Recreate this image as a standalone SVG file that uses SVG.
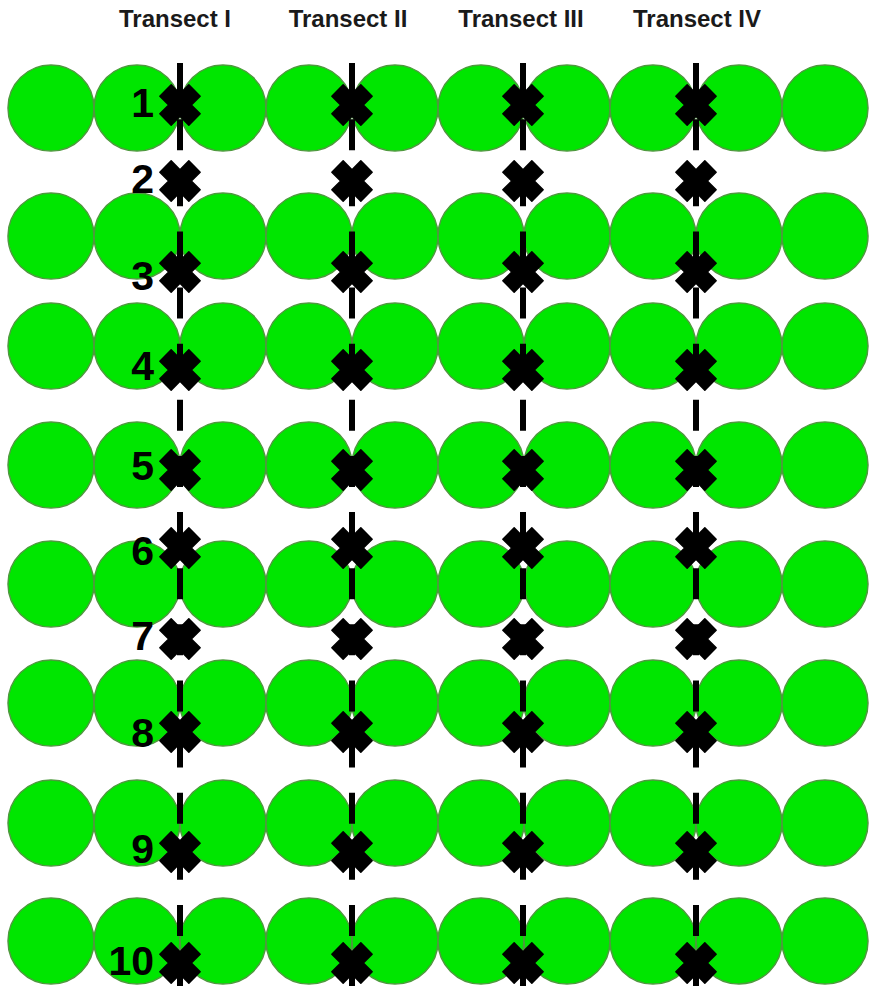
<svg xmlns="http://www.w3.org/2000/svg" xmlns:xlink="http://www.w3.org/1999/xlink" width="869" height="991" viewBox="0 0 869 991">
<style>
.c{fill:#00E600;stroke:#4E9A3E;stroke-width:1.5}
.t{stroke:#000;stroke-width:6;stroke-dasharray:31 25.13;fill:none}
.h{font-family:"Liberation Sans",Arial,sans-serif;font-weight:bold;font-size:24px;fill:#1a1a1a;text-anchor:middle}
.n{font-family:"Liberation Sans",Arial,sans-serif;font-weight:bold;font-size:41px;fill:#000;text-anchor:end}
</style>
<defs>
<path id="x" transform="rotate(45)" d="M-8,-20.5H8V-8H20.5V8H8V20.5H-8V8H-20.5V-8H-8Z" fill="#000" stroke="#000" stroke-width="1.5" stroke-linejoin="round"/>
<g id="row">
<circle class="c" cx="51" cy="0" r="43"/><circle class="c" cx="137" cy="0" r="43"/><circle class="c" cx="223" cy="0" r="43"/><circle class="c" cx="309" cy="0" r="43"/><circle class="c" cx="395" cy="0" r="43"/><circle class="c" cx="481" cy="0" r="43"/><circle class="c" cx="567" cy="0" r="43"/><circle class="c" cx="653" cy="0" r="43"/><circle class="c" cx="739" cy="0" r="43"/><circle class="c" cx="825" cy="0" r="43"/>
</g>
</defs>
<rect width="869" height="991" fill="#fff"/>
<g id="headers">
<text class="h" x="175" y="27">Transect I</text>
<text class="h" x="348" y="27">Transect II</text>
<text class="h" x="521" y="27">Transect III</text>
<text class="h" x="697" y="27">Transect IV</text>
</g>
<g id="plants">
<use xlink:href="#row" y="108"/>
<use xlink:href="#row" y="236"/>
<use xlink:href="#row" y="346"/>
<use xlink:href="#row" y="465"/>
<use xlink:href="#row" y="584"/>
<use xlink:href="#row" y="703"/>
<use xlink:href="#row" y="823"/>
<use xlink:href="#row" y="941"/>
</g>
<g id="connectors">
<line class="t" x1="180" y1="63" x2="180" y2="986"/>
<line class="t" x1="352" y1="63" x2="352" y2="986"/>
<line class="t" x1="523" y1="63" x2="523" y2="986"/>
<line class="t" x1="696" y1="63" x2="696" y2="986"/>
</g>
<g id="p1"><text class="n" x="154" y="117">1</text><use xlink:href="#x" x="180" y="105"/><use xlink:href="#x" x="352" y="105"/><use xlink:href="#x" x="523" y="105"/><use xlink:href="#x" x="696" y="105"/></g>
<g id="p2"><text class="n" x="154" y="193">2</text><use xlink:href="#x" x="180" y="181"/><use xlink:href="#x" x="352" y="181"/><use xlink:href="#x" x="523" y="181"/><use xlink:href="#x" x="696" y="181"/></g>
<g id="p3"><text class="n" x="154" y="290">3</text><use xlink:href="#x" x="180" y="272"/><use xlink:href="#x" x="352" y="272"/><use xlink:href="#x" x="523" y="272"/><use xlink:href="#x" x="696" y="272"/></g>
<g id="p4"><text class="n" x="154" y="380">4</text><use xlink:href="#x" x="180" y="370"/><use xlink:href="#x" x="352" y="370"/><use xlink:href="#x" x="523" y="370"/><use xlink:href="#x" x="696" y="370"/></g>
<g id="p5"><text class="n" x="154" y="480">5</text><use xlink:href="#x" x="180" y="470"/><use xlink:href="#x" x="352" y="470"/><use xlink:href="#x" x="523" y="470"/><use xlink:href="#x" x="696" y="470"/></g>
<g id="p6"><text class="n" x="154" y="565">6</text><use xlink:href="#x" x="180" y="548"/><use xlink:href="#x" x="352" y="548"/><use xlink:href="#x" x="523" y="548"/><use xlink:href="#x" x="696" y="548"/></g>
<g id="p7"><text class="n" x="154" y="650">7</text><use xlink:href="#x" x="180" y="639"/><use xlink:href="#x" x="352" y="639"/><use xlink:href="#x" x="523" y="639"/><use xlink:href="#x" x="696" y="639"/></g>
<g id="p8"><text class="n" x="154" y="747">8</text><use xlink:href="#x" x="180" y="732"/><use xlink:href="#x" x="352" y="732"/><use xlink:href="#x" x="523" y="732"/><use xlink:href="#x" x="696" y="732"/></g>
<g id="p9"><text class="n" x="154" y="863">9</text><use xlink:href="#x" x="180" y="852"/><use xlink:href="#x" x="352" y="852"/><use xlink:href="#x" x="523" y="852"/><use xlink:href="#x" x="696" y="852"/></g>
<g id="p10"><text class="n" x="154" y="975">10</text><use xlink:href="#x" x="180" y="963"/><use xlink:href="#x" x="352" y="963"/><use xlink:href="#x" x="523" y="963"/><use xlink:href="#x" x="696" y="963"/></g>
</svg>
